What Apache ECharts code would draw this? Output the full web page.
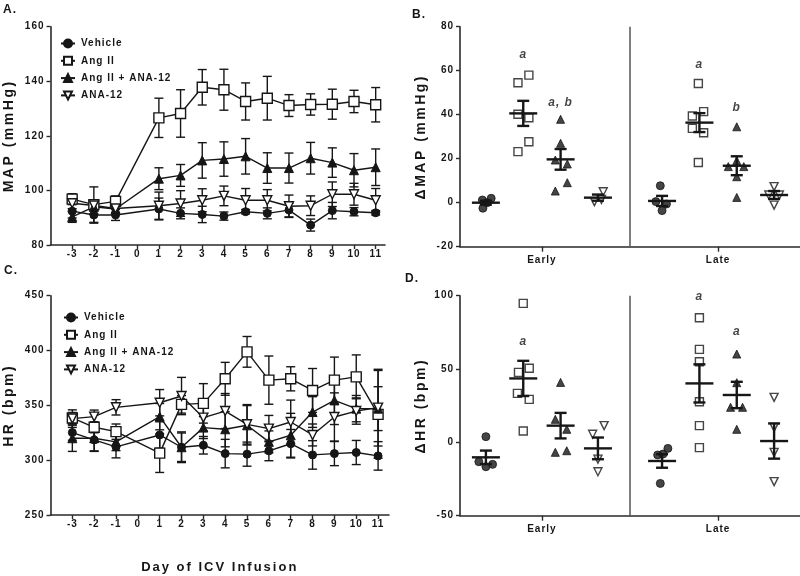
<!DOCTYPE html>
<html>
<head>
<meta charset="utf-8">
<script src="https://cdn.jsdelivr.net/npm/echarts@6/dist/echarts.min.js"></script>
<style>html,body{margin:0;padding:0;background:#fff}#chart{width:800px;height:576px}</style>
</head>
<body>
<div id="chart"></div>
<script>
// ---------- data ----------
const treatments = ['Vehicle', 'Ang II', 'Ang II + ANA-12', 'ANA-12'];
const days = [-3, -2, -1, 1, 2, 3, 4, 5, 6, 7, 8, 9, 10, 11];
const dayTicks = [-3, -2, -1, 0, 1, 2, 3, 4, 5, 6, 7, 8, 9, 10, 11];

// Panel A: MAP (mmHg), mean and SEM
const mapVehicle    = [92.4, 91.0, 91.0, 93.2, 91.6, 91.2, 90.6, 92.2, 91.6, 92.8, 87.3, 92.6, 92.2, 91.8];
const mapVehicleSem = [2.5, 3.0, 2.0, 4.0, 2.0, 3.0, 1.5, 0.8, 2.0, 2.5, 2.2, 3.0, 1.5, 0.8];
const mapAngII      = [96.8, 94.8, 96.0, 126.6, 128.2, 137.8, 136.9, 132.6, 133.8, 131.1, 131.5, 131.6, 132.6, 131.4];
const mapAngIISem   = [2.0, 6.5, 2.0, 7.2, 8.7, 6.5, 7.5, 6.8, 8.0, 4.0, 3.9, 5.5, 4.1, 6.3];
const mapAngANA     = [90.3, 94.0, 93.2, 104.3, 105.5, 111.0, 111.5, 112.5, 108.2, 108.2, 111.8, 110.2, 107.4, 108.5];
const mapAngANASem  = [2.0, 2.5, 1.5, 4.0, 4.0, 6.5, 6.3, 6.5, 5.6, 5.5, 5.8, 5.4, 6.1, 6.7];
const mapANA        = [95.3, 94.5, 93.4, 94.4, 95.2, 96.4, 98.0, 96.4, 96.4, 94.2, 94.4, 98.6, 98.6, 96.4];
const mapANASem     = [2.0, 2.0, 1.5, 5.0, 4.7, 4.2, 3.6, 4.3, 3.9, 4.1, 3.6, 4.5, 4.0, 4.3];

// Panel C: HR (bpm), mean and SEM
const hrVehicle    = [325.2, 318.5, 312.1, 323.0, 311.8, 313.6, 306.0, 305.5, 308.5, 315.0, 304.8, 306.0, 307.0, 303.9];
const hrVehicleSem = [7, 10, 10, 12, 13, 8, 13, 11, 9, 13, 13, 11, 11, 13];
const hrAngII      = [338.5, 330.0, 326.0, 306.4, 350.9, 351.8, 374.2, 398.8, 373.0, 374.2, 363.6, 373.0, 376.0, 341.8];
const hrAngIISem   = [5, 5, 7, 17.6, 8, 18, 15, 14, 22, 11, 20, 21, 20, 40];
const hrAngANA     = [320.0, 320.0, 316.7, 339.7, 311.8, 329.7, 328.2, 331.8, 316.7, 322.7, 343.9, 354.5, 347.0, 347.0];
const hrAngANASem  = [12, 12, 8, 12, 14, 10, 16, 18, 10, 20, 14, 22, 12, 20];
const hrANA        = [337.9, 339.7, 348.2, 352.4, 358.5, 338.8, 344.8, 332.7, 328.8, 334.8, 323.0, 339.4, 344.8, 347.9];
const hrANASem     = [8, 6, 7, 12, 17, 12, 16, 18, 12, 20, 10, 22, 12, 35];

// Panels B and D: individual changes, group mean and SEM
const groups = ['Early', 'Late'];
// ΔMAP (mmHg)
const dMapEarlyVehicle = [1.2, 0.0, 2.0, -2.5];
const dMapEarlyAngII   = [54.5, 58.0, 40.2, 38.6, 27.7, 23.2];
const dMapEarlyAngANA  = [37.9, 27.0, 19.4, 17.6, 9.1, 5.3];
const dMapEarlyANA     = [0.5, 1.5, 5.0];
const dMapLateVehicle  = [7.7, 0.5, -0.6, -3.6];
const dMapLateAngII    = [54.2, 39.4, 41.4, 33.8, 31.8, 18.3];
const dMapLateAngANA   = [34.5, 19.1, 16.4, 16.4, 11.8, 2.4];
const dMapLateANA      = [7.3, 3.5, 3.5, -1.1];
const dMapMean = [[0.0, 40.6, 19.7, 2.3], [0.8, 36.4, 16.8, 3.5]];
const dMapSem  = [[0.9, 5.7, 4.7, 1.4], [2.3, 4.3, 4.3, 1.8]];
// small horizontal spread of the individual points (as drawn)
const dMapJitter = [
  [[-0.02, 0.007, 0.03, -0.017], [-0.03, 0.032, -0.03, 0.032, 0.032, -0.03], [0, 0, -0.03, 0.038, 0.038, -0.03], [-0.02, 0.02, 0.03]],
  [[-0.01, -0.035, 0.025, 0], [-0.006, -0.04, 0.024, -0.04, 0.024, -0.006], [0, 0, -0.048, 0.04, 0, 0], [0, -0.03, 0.03, 0]]
];
const dMapNotes = [
  {group: 0, treatment: 1, y: 67.1, text: 'a'},
  {group: 0, treatment: 2, y: 45.5, text: 'a, b'},
  {group: 1, treatment: 1, y: 62.6, text: 'a'},
  {group: 1, treatment: 2, y: 43.3, text: 'b'}
];
// ΔHR (bpm)
const dHrEarlyVehicle = [3.9, -13.2, -16.6, -15.0];
const dHrEarlyAngII   = [94.8, 47.7, 50.5, 33.4, 29.3, 7.7];
const dHrEarlyAngANA  = [40.9, 15.7, 8.9, -6.8, -5.7];
const dHrEarlyANA     = [11.4, 5.5, -11.4, -20.0];
const dHrLateVehicle  = [-4.1, -8.0, -8.6, -28.0];
const dHrLateAngII    = [85.0, 63.4, 55.0, 27.7, 11.4, -3.6];
const dHrLateAngANA   = [60.2, 40.7, 23.9, 23.9, 8.9];
const dHrLateANA      = [30.7, 10.2, -6.8, -26.8];
const dHrMean = [[-10.2, 43.6, 11.4, -4.1], [-12.7, 40.2, 32.3, 0.9]];
const dHrSem  = [[4.6, 12.0, 8.7, 7.4], [4.6, 13.0, 9.0, 12.0]];
const dHrJitter = [
  [[0, -0.04, 0, 0.038], [0, -0.027, 0.034, -0.033, 0.034, 0], [0, -0.03, 0.035, -0.03, 0.035], [0.035, -0.03, 0, 0]],
  [[0.033, 0.005, -0.025, -0.01], [0, 0, 0, 0, 0, 0], [0, 0, -0.035, 0.033, 0], [0, 0, 0, 0]]
];
const dHrNotes = [
  {group: 0, treatment: 1, y: 68.6, text: 'a'},
  {group: 1, treatment: 1, y: 99.3, text: 'a'},
  {group: 1, treatment: 2, y: 75.5, text: 'a'}
];

// ---------- letter spacing like the original (canvas text) ----------
(function () {
  const P = CanvasRenderingContext2D.prototype;
  if (!('letterSpacing' in P)) return;
  const f = P.fillText, m = P.measureText;
  const ls = ctx => {
    const mm = /([\d.]+)px/.exec(ctx.font);
    const fs = mm ? parseFloat(mm[1]) : 12;
    ctx.letterSpacing = (fs >= 13.5 ? 2.5 : fs >= 12.5 ? 2 : 1) + 'px';
  };
  P.fillText = function () { ls(this); return f.apply(this, arguments); };
  P.measureText = function () { ls(this); return m.apply(this, arguments); };
})();

// ---------- chart ----------
const FONT = '"Liberation Sans", Arial, sans-serif';
const INK = '#161616';
const AXIS = '#2a2a2a';
const symbols = ['circle', 'rect', 'triangle', 'triangle'];
const rotations = [0, 0, 0, 180];
const filled = [true, false, true, false];
const lineSizes = [8, 10, 9, 9];
const dotSizes = [8, 8, 8, 8];
const colOffset = [-0.318, -0.106, 0.106, 0.318];

function itemStyleFor(t) {
  return filled[t] ? {color: INK, borderColor: INK, borderWidth: 1}
                   : {color: '#fff', borderColor: INK, borderWidth: 1.4};
}

function errorBarSeries(xi, yi, vals, sems, z) {
  return {
    type: 'custom', xAxisIndex: xi, yAxisIndex: yi, z: z, silent: true,
    data: days.map((d, i) => [d, vals[i], sems[i]]),
    renderItem: function (params, api) {
      const x = api.value(0), m = api.value(1), s = api.value(2);
      const t = api.coord([x, m + s]), b = api.coord([x, m - s]);
      const st = {stroke: INK, lineWidth: 1.4};
      return {type: 'group', children: [
        {type: 'line', shape: {x1: t[0], y1: t[1], x2: b[0], y2: b[1]}, style: st},
        {type: 'line', shape: {x1: t[0] - 4.5, y1: t[1], x2: t[0] + 4.5, y2: t[1]}, style: st},
        {type: 'line', shape: {x1: b[0] - 4.5, y1: b[1], x2: b[0] + 4.5, y2: b[1]}, style: st}
      ]};
    }
  };
}

function lineSeries(xi, yi, t, vals) {
  return {
    type: 'line', name: treatments[t], xAxisIndex: xi, yAxisIndex: yi, z: 4,
    data: days.map((d, i) => [d, vals[i]]),
    symbol: symbols[t], symbolSize: lineSizes[t], symbolRotate: rotations[t],
    showAllSymbol: true,
    lineStyle: {color: INK, width: 1.4},
    itemStyle: itemStyleFor(t),
    emphasis: {disabled: true}
  };
}

function dotSeries(xi, yi, name, g, t, vals, jit) {
  return {
    type: 'scatter', name: name, xAxisIndex: xi, yAxisIndex: yi, z: 3,
    data: vals.map((v, i) => [g + 0.5 + colOffset[t] + jit[i], v]),
    symbol: symbols[t], symbolSize: dotSizes[t], symbolRotate: rotations[t],
    itemStyle: itemStyleFor(t), emphasis: {disabled: true}, silent: true
  };
}

function meanSeries(xi, yi, means, sems) {
  const data = [];
  for (let g = 0; g < 2; g++) for (let t = 0; t < 4; t++) data.push([g + 0.5 + colOffset[t], means[g][t], sems[g][t]]);
  return {
    type: 'custom', xAxisIndex: xi, yAxisIndex: yi, z: 5, silent: true, data: data,
    renderItem: function (params, api) {
      const x = api.value(0), m = api.value(1), s = api.value(2);
      const c = api.coord([x, m]), t = api.coord([x, m + s]), b = api.coord([x, m - s]);
      const st = {stroke: INK, lineWidth: 2.4};
      return {type: 'group', children: [
        {type: 'line', shape: {x1: c[0] - 14, y1: c[1], x2: c[0] + 14, y2: c[1]}, style: st},
        {type: 'line', shape: {x1: t[0], y1: t[1], x2: b[0], y2: b[1]}, style: st},
        {type: 'line', shape: {x1: t[0] - 6, y1: t[1], x2: t[0] + 6, y2: t[1]}, style: st},
        {type: 'line', shape: {x1: b[0] - 6, y1: b[1], x2: b[0] + 6, y2: b[1]}, style: st}
      ]};
    },
    markLine: {
      silent: true, symbol: 'none', label: {show: false},
      lineStyle: {color: '#555', width: 1.5, type: 'solid'},
      emphasis: {disabled: true},
      data: [{xAxis: 1}]
    }
  };
}

function noteSeries(xi, yi, notes) {
  return {
    type: 'scatter', xAxisIndex: xi, yAxisIndex: yi, z: 6, silent: true,
    symbolSize: 0,
    data: notes.map(n => ({name: n.text, value: [n.group + 0.5 + colOffset[n.treatment], n.y]})),
    label: {show: true, position: 'inside', formatter: '{b}', color: INK,
            fontFamily: FONT, fontSize: 12, fontWeight: 'bold', fontStyle: 'italic'}
  };
}

const tickLabel = {fontFamily: FONT, fontSize: 10, fontWeight: 'bold', color: INK};
const axisLine = {show: true, onZero: false, lineStyle: {color: AXIS, width: 1.6}};
const axisTick = {show: true, length: 4, lineStyle: {color: AXIS, width: 1.4}};
const nameStyle = {fontFamily: FONT, fontSize: 14, fontWeight: 'bold', color: INK};

function dayAxis(gi, max, name) {
  return {
    type: 'value', gridIndex: gi, min: -4, max: max, interval: 1,
    axisLine: axisLine, splitLine: {show: false},
    axisTick: Object.assign({}, axisTick, {customValues: dayTicks}),
    axisLabel: Object.assign({}, tickLabel, {customValues: dayTicks, margin: 4}),
    name: name || '', nameLocation: 'middle', nameGap: 45,
    nameTextStyle: Object.assign({}, nameStyle, {fontSize: 13})
  };
}
function groupAxis(gi) {
  return {
    type: 'value', gridIndex: gi, min: 0.035, max: 1.965,
    axisLine: axisLine, splitLine: {show: false},
    axisTick: Object.assign({}, axisTick, {customValues: [0.5, 1.5], length: 5}),
    axisLabel: Object.assign({}, tickLabel, {customValues: [0.5, 1.5], margin: 8,
      formatter: v => groups[Math.floor(v)]})
  };
}
function yAxis(gi, min, max, interval, name, gap) {
  return {
    type: 'value', gridIndex: gi, min: min, max: max, interval: interval,
    axisLine: axisLine, axisTick: axisTick, splitLine: {show: false},
    axisLabel: Object.assign({}, tickLabel, {margin: 6}),
    name: name, nameLocation: 'middle', nameRotate: 90, nameGap: gap,
    nameTextStyle: nameStyle
  };
}

const legendBase = {
  orient: 'vertical', itemGap: 6.3, itemWidth: 14, itemHeight: 10, selectedMode: false,
  data: treatments,
  textStyle: {fontFamily: FONT, fontSize: 10, fontWeight: 'bold', color: INK, padding: [0, 0, 0, 1]}
};

const series = [];
// A
[[mapVehicle, mapVehicleSem], [mapAngII, mapAngIISem], [mapAngANA, mapAngANASem], [mapANA, mapANASem]]
  .forEach((p, t) => { series.push(errorBarSeries(0, 0, p[0], p[1], 2)); });
[mapVehicle, mapAngII, mapAngANA, mapANA].forEach((v, t) => series.push(lineSeries(0, 0, t, v)));
// C
[[hrVehicle, hrVehicleSem], [hrAngII, hrAngIISem], [hrAngANA, hrAngANASem], [hrANA, hrANASem]]
  .forEach((p, t) => { series.push(errorBarSeries(2, 2, p[0], p[1], 2)); });
[hrVehicle, hrAngII, hrAngANA, hrANA].forEach((v, t) => series.push(lineSeries(2, 2, t, v)));
// B
const dMapSets = [[dMapEarlyVehicle, dMapEarlyAngII, dMapEarlyAngANA, dMapEarlyANA],
                  [dMapLateVehicle, dMapLateAngII, dMapLateAngANA, dMapLateANA]];
dMapSets.forEach((set, g) => set.forEach((vals, t) =>
  series.push(dotSeries(1, 1, 'ΔMAP ' + groups[g] + ' ' + treatments[t], g, t, vals, dMapJitter[g][t]))));
series.push(meanSeries(1, 1, dMapMean, dMapSem));
series.push(noteSeries(1, 1, dMapNotes));
// D
const dHrSets = [[dHrEarlyVehicle, dHrEarlyAngII, dHrEarlyAngANA, dHrEarlyANA],
                 [dHrLateVehicle, dHrLateAngII, dHrLateAngANA, dHrLateANA]];
dHrSets.forEach((set, g) => set.forEach((vals, t) =>
  series.push(dotSeries(3, 3, 'ΔHR ' + groups[g] + ' ' + treatments[t], g, t, vals, dHrJitter[g][t]))));
series.push(meanSeries(3, 3, dHrMean, dHrSem));
series.push(noteSeries(3, 3, dHrNotes));

const panelLabel = (text, left, top) => ({
  type: 'text', left: left, top: top,
  style: {text: text, font: 'bold 12px ' + FONT, fill: INK}
});

const option = {
  animation: false,
  backgroundColor: '#fff',
  textStyle: {fontFamily: FONT},
  grid: [
    {left: 50, top: 26.7, width: 335, height: 218.3},
    {left: 460, top: 26.7, width: 340, height: 220},
    {left: 50, top: 295.7, width: 339, height: 220.3},
    {left: 460, top: 295.7, width: 340, height: 220}
  ],
  xAxis: [dayAxis(0, 11.43), groupAxis(1), dayAxis(2, 11.5, 'Day of ICV Infusion'), groupAxis(3)],
  yAxis: [
    yAxis(0, 80, 160, 20, 'MAP (mmHg)', 33),
    yAxis(1, -20, 80, 20, 'ΔMAP (mmHg)', 31),
    yAxis(2, 250, 450, 50, 'HR (bpm)', 33),
    yAxis(3, -50, 100, 50, 'ΔHR (bpm)', 31)
  ],
  legend: [
    Object.assign({}, legendBase, {left: 55, top: 33}),
    Object.assign({}, legendBase, {left: 58, top: 307})
  ],
  graphic: [
    panelLabel('A.', 3, 3),
    panelLabel('B.', 412, 8),
    panelLabel('C.', 4, 264),
    panelLabel('D.', 405, 272)
  ],
  series: series
};

const chart = echarts.init(document.getElementById('chart'), null, {renderer: 'canvas'});
chart.setOption(option);
</script>
</body>
</html>
